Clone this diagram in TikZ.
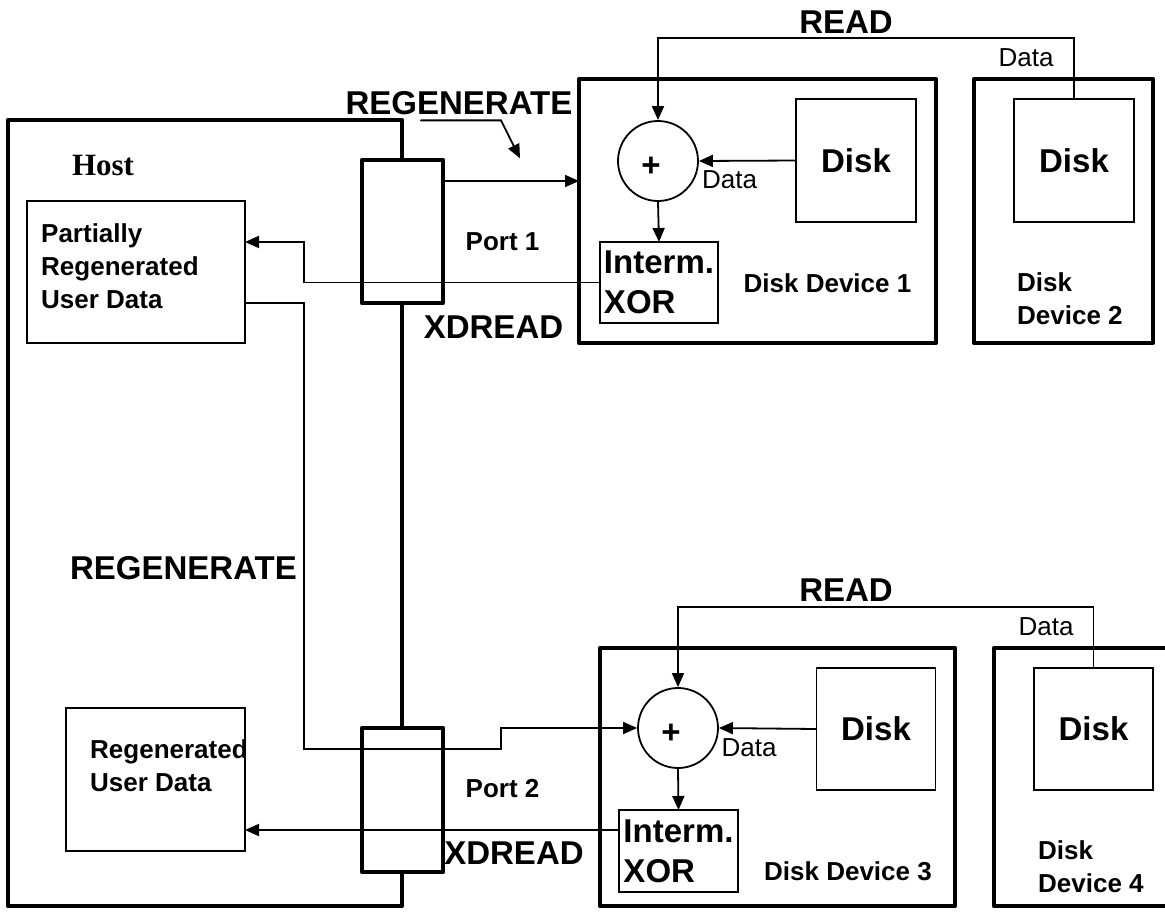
\documentclass[tikz,border=0pt]{standalone}
\usepackage{fontspec}
\setmainfont{Liberation Sans}
\newfontfamily\hostfont{Liberation Serif}
\usetikzlibrary{arrows.meta}
\newcommand{\addsign}{\raisebox{-6pt}[\height][\depth]{\kern-7pt+\kern7pt}}
\begin{document}
\begin{tikzpicture}[x=1pt,y=-1pt,line cap=round,
    thickbox/.style={draw,line width=4.5pt,line join=round,inner sep=0pt,outer sep=0pt},
    thinbox/.style={draw,line width=1.8pt,inner sep=0pt,outer sep=0pt},
    sig/.style={line width=1.8pt,-{Triangle[length=14pt,width=12pt]}},
    big/.style={font=\fontsize{33}{40}\selectfont\bfseries},
    mid/.style={font=\fontsize{26}{33}\selectfont\bfseries},
    small/.style={font=\fontsize{26}{30}\selectfont}]
  \useasboundingbox (0,0) rectangle (1165,911);
  \clip (0,0) rectangle (1165,911);
  % host and its two ports
  \node[thickbox,minimum width=394,minimum height=786] (host) at (205,513) {};
  \node[thickbox,fill=white,minimum width=81,minimum height=143] (port1) at (402.5,231.5) {};
  \node[thickbox,fill=white,minimum width=81,minimum height=144] (port2) at (402.5,800) {};
  \node[font=\hostfont\fontsize{31}{36}\selectfont\bfseries] (hostlab) at (103,165) {Host};
  \node[thinbox,minimum width=218,minimum height=142] (part) at (136,272) {};
  \node[mid,align=left,anchor=west,inner sep=0pt] (partlab) at (41,266) {Partially\\Regenerated\\User Data};
  \node[thinbox,minimum width=179,minimum height=143] (rud) at (155.5,779.5) {};
  \node[mid,align=left,anchor=west,inner sep=0pt] (rudlab) at (90,766) {Regenerated\\User Data};
  \node[big] (regmid) at (183.5,568) {REGENERATE};
  % disk devices
  \node[thickbox,minimum width=357,minimum height=264] (dev1) at (757.5,211) {};
  \node[thickbox,minimum width=179,minimum height=264] (dev2) at (1063.5,211) {};
  \node[thickbox,minimum width=355,minimum height=258] (dev3) at (777.5,777) {};
  \node[thickbox,minimum width=230,minimum height=258,anchor=north west] (dev4) at (994,648) {};
  \node[thinbox,minimum width=120,minimum height=123,big] (disk1) at (856,160.5) {Disk};
  \node[thinbox,minimum width=120,minimum height=123,big] (disk2) at (1074,160.5) {Disk};
  \node[thinbox,minimum width=119,minimum height=122,big] (disk3) at (876,729) {Disk};
  \node[thinbox,minimum width=119,minimum height=122,big] (disk4) at (1093.5,729) {Disk};
  \node[draw,circle,line width=1.8pt,minimum size=80,inner sep=0pt,big] (add1) at (658,161) {\addsign};
  \node[draw,circle,line width=1.8pt,minimum size=80,inner sep=0pt,big] (add3) at (678,728) {\addsign};
  \node[thinbox,minimum width=118,minimum height=81,big,align=left] (xor1) at (659,282.5) {Interm.\\XOR};
  \node[thinbox,minimum width=119,minimum height=82,big,align=left] (xor3) at (678.5,851) {Interm.\\XOR};
  \node[mid] (dev1lab) at (827.5,283) {Disk Device 1};
  \node[mid,align=left,anchor=west,inner sep=0pt] (dev2lab) at (1017,298.5) {Disk\\Device 2};
  \node[mid] (dev3lab) at (848,871) {Disk Device 3};
  \node[mid,align=left,anchor=west,inner sep=0pt] (dev4lab) at (1038,867) {Disk\\Device 4};
  % labels
  \node[big] (regtop) at (459,103) {REGENERATE};
  \node[big] (readtop) at (846,22) {READ};
  \node[big] (readbot) at (846,590) {READ};
  \node[small] (dtop) at (1026,58) {Data};
  \node[small] (dbot) at (1046,627) {Data};
  \node[small] (d1lab) at (729.5,180) {Data};
  \node[small] (d3lab) at (749,748) {Data};
  \node[mid] (port1lab) at (502.5,242) {Port 1};
  \node[mid] (port2lab) at (502.5,789) {Port 2};
  \node[big] (xdtop) at (493.5,327) {XDREAD};
  \node[big] (xdbot) at (514,853) {XDREAD};
  % upper path
  \draw[sig] ([xshift=-38pt,yshift=-6pt]regtop.base) -- ++(80,0) -- ++(19,38);
  \draw[sig] ([yshift=50.5pt]port1.east) -- ([yshift=50.5pt]port1.east -| dev1.west);
  \draw[sig] (disk2.north) -- (disk2.north |- 0,38) -| (add1.north);
  \draw[sig] (disk1.west) -- (add1.east);
  \draw[sig] (add1.south) -- (xor1.north);
  \draw[sig] (xor1.west) -| (304,242) -- (part.east |- 0,242);
  % lower path
  \draw[sig] (part.east |- 0,303) -| (304,749) -| (501,728) -- (add3.west);
  \draw[sig] (disk4.north) -- (disk4.north |- 0,607) -| (add3.north);
  \draw[sig] (disk3.west) -- (add3.east);
  \draw[sig] (add3.south) -- (xor3.north);
  \draw[sig] ([yshift=21pt]xor3.west) -- ([yshift=21pt]xor3.west -| rud.east);
\end{tikzpicture}
\end{document}
